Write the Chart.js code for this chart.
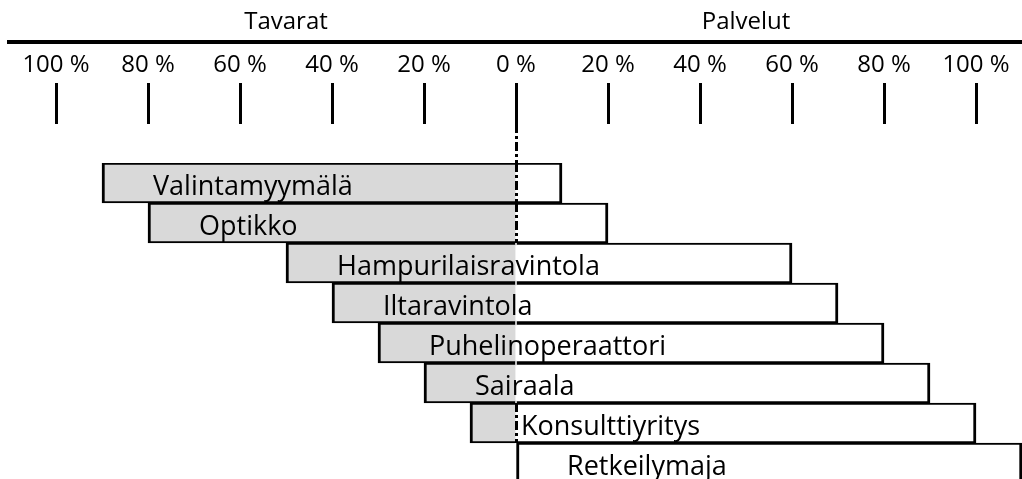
<!DOCTYPE html>
<html>
<head>
<meta charset="utf-8">
<title>Tavarat ja palvelut</title>
<script src="https://cdn.jsdelivr.net/npm/chart.js@4"></script>
<style>
body{margin:0;background:#fff;overflow:hidden;}
#wrap{position:relative;width:1022px;height:483px;}
</style>
</head>
<body>
<div id="wrap"><canvas id="chart"></canvas></div>
<script>
// share of goods (left) and services (right), %
const categories=["Valintamyymälä","Optikko","Hampurilaisravintola","Iltaravintola","Puhelinoperaattori","Sairaala","Konsulttiyritys","Retkeilymaja"];
const goodsShare=[90,80,50,40,30,20,10,0];
const serviceShare=[10,20,60,70,80,90,100,110];
const tickValues=[-100,-80,-60,-40,-20,0,20,40,60,80,100];
const sideLabels=["Tavarat","Palvelut"];
const sideValues=[-50,50];

const TICK_LEN=80, TICK_SHOWN=41;
const dashedRows=[0,1,6];
const FONT="'Open Sans', sans-serif";

Chart.defaults.font.family=FONT;
Chart.defaults.font.size=24;
Chart.defaults.color="#000";

const overlay={
id:"overlay",
afterDatasetsDraw(chart){
const ctx=chart.ctx, xs=chart.scales.x, ys=chart.scales.y, area=chart.chartArea;
const rowH=(area.bottom-area.top)/categories.length;
const rowTop=i=>ys.getPixelForValue(i)-rowH/2;
const x0=Math.round(xs.getPixelForValue(0))+0.5;
ctx.save();
// dashed 0 % line
ctx.strokeStyle="#000";
ctx.lineWidth=3;
ctx.setLineDash([9,3,3,3]);
ctx.beginPath();
ctx.moveTo(x0,area.top-TICK_LEN+TICK_SHOWN);
ctx.lineTo(x0,area.top);
dashedRows.forEach(r=>{
ctx.moveTo(x0,rowTop(r));
ctx.lineTo(x0,rowTop(r)+rowH);
});
ctx.stroke();
ctx.setLineDash([]);
// names inside the bars
ctx.fillStyle="#000";
ctx.font="27px "+FONT;
ctx.textAlign="left";
ctx.textBaseline="alphabetic";
categories.forEach((name,i)=>{
const x=xs.getPixelForValue(-goodsShare[i])+51;
ctx.fillText(name,x,ys.getPixelForValue(i)+12);
});
ctx.restore();
}
};

new Chart(document.getElementById("chart"),{
type:"bar",
data:{
labels:categories,
datasets:[
{
label:"Tavarat",
data:goodsShare.map(v=>-v),
backgroundColor:"#d9d9d9",
borderColor:"#000",
borderWidth:{top:2,bottom:2,left:3,right:0},
borderSkipped:false
},
{
label:"Palvelut",
data:serviceShare,
backgroundColor:"#fff",
borderColor:"#000",
borderWidth:(c)=>({top:2,bottom:2,right:3,left:goodsShare[c.dataIndex]===0?3:0}),
borderSkipped:false
}
]
},
options:{
indexAxis:"y",
responsive:true,
maintainAspectRatio:false,
animation:false,
layout:{padding:{left:9,right:0,top:0,bottom:0}},
plugins:{legend:{display:false},tooltip:{enabled:false}},
datasets:{bar:{categoryPercentage:1,barPercentage:1}},
scales:{
x:{
position:"top",
stacked:true,
min:-110.22,
max:110,
afterBuildTicks:s=>{s.ticks=tickValues.map(v=>({value:v}));},
afterFit:s=>{s.height=121;},
ticks:{callback:v=>Math.abs(v)+" %",padding:3,maxRotation:0,autoSkip:false},
grid:{drawOnChartArea:false,drawTicks:true,tickLength:TICK_LEN,tickWidth:3,tickColor:"#000",tickBorderDash:[TICK_SHOWN,300]},
border:{display:false}
},
x2:{
position:"top",
min:-110.22,
max:110,
afterBuildTicks:s=>{s.ticks=sideValues.map(v=>({value:v}));},
afterFit:s=>{s.height=42;},
ticks:{callback:(v,i)=>sideLabels[i],padding:5,maxRotation:0,autoSkip:false},
grid:{display:false,drawTicks:false},
border:{display:true,color:"#000",width:4}
},
y:{
stacked:true,
display:false
}
}
},
plugins:[overlay]
});
</script>
</body>
</html>
